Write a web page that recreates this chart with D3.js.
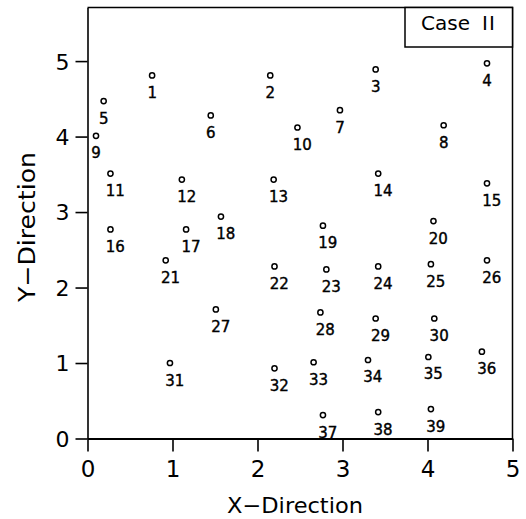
<!DOCTYPE html>
<html>
<head>
<meta charset="utf-8">
<script src="https://cdn.jsdelivr.net/npm/d3@7"></script>
<style>
  html, body { margin: 0; padding: 0; background: #fff; }
  svg { display: block; }
  text { font-family: "DejaVu Sans", "Liberation Sans", Arial, sans-serif; fill: #000; }
</style>
</head>
<body>
<svg id="chart" width="526" height="519"></svg>
<script>
// Node ids and their coordinates
const nodeIds = d3.range(1, 40);
const xValues = [
  0.76, 2.15, 3.39, 4.70, 0.19, 1.45, 2.97, 4.19, 0.10, 2.47,
  0.27, 1.11, 2.19, 3.42, 4.70, 0.27, 1.16, 1.57, 2.77, 4.07,
  0.92, 2.20, 2.81, 3.42, 4.04, 4.70, 1.51, 2.74, 3.39, 4.08,
  0.97, 2.20, 2.66, 3.30, 4.01, 4.64, 2.77, 3.42, 4.04
];
const yValues = [
  4.81, 4.81, 4.89, 4.97, 4.47, 4.28, 4.35, 4.15, 4.01, 4.12,
  3.51, 3.43, 3.43, 3.51, 3.38, 2.77, 2.77, 2.94, 2.82, 2.88,
  2.36, 2.28, 2.24, 2.28, 2.31, 2.36, 1.71, 1.67, 1.59, 1.59,
  1.00, 0.93, 1.01, 1.04, 1.08, 1.15, 0.31, 0.35, 0.39
];
const xTicks = [0, 1, 2, 3, 4, 5];
const yTicks = [0, 1, 2, 3, 4, 5];
const caseLabel = "Case";
const caseNumber = "II";

const svg = d3.select("#chart");
const plotLeft = 87.5, plotRight = 512.5, plotTop = 7.5, plotBottom = 438.5;

const x = d3.scaleLinear().domain([0, 5]).range([plotLeft, plotRight]);
const y = d3.scaleLinear().domain([0, 5.71]).range([plotBottom, plotTop]);

// frame (top and right edges)
svg.append("path")
  .attr("d", `M${plotLeft},${plotTop}H${plotRight}V${plotBottom}`)
  .attr("fill", "none").attr("stroke", "#000").attr("stroke-width", 1.5);

// x axis
const gx = svg.append("g")
  .attr("transform", `translate(0,${plotBottom})`)
  .call(d3.axisBottom(x).tickValues(xTicks).tickFormat(d3.format("d"))
    .tickSize(13).tickSizeOuter(0).tickPadding(9));
gx.select(".domain").attr("stroke-width", 2.2);
gx.selectAll(".tick line").attr("stroke-width", 1.6);
gx.selectAll(".tick text").attr("font-size", 23)
  .attr("font-family", "DejaVu Sans, sans-serif");

// y axis
const gy = svg.append("g")
  .attr("transform", `translate(${plotLeft},0)`)
  .call(d3.axisLeft(y).tickValues(yTicks).tickFormat(d3.format("d"))
    .tickSize(12).tickSizeOuter(0).tickPadding(6));
gy.select(".domain").attr("stroke-width", 1.6);
gy.selectAll(".tick line").attr("stroke-width", 1.6);
gy.selectAll(".tick text").attr("font-size", 22).attr("dy", "0.36em")
  .attr("font-family", "DejaVu Sans, sans-serif");

// axis titles
svg.append("text")
  .attr("x", 295).attr("y", 513)
  .attr("text-anchor", "middle").attr("font-size", 21)
  .attr("textLength", 136).attr("lengthAdjust", "spacingAndGlyphs")
  .text("X\u2212Direction");
svg.append("text")
  .attr("transform", "translate(35,227) rotate(-90)")
  .attr("text-anchor", "middle").attr("font-size", 23)
  .attr("textLength", 150).attr("lengthAdjust", "spacingAndGlyphs")
  .text("Y\u2212Direction");

// case box
svg.append("rect")
  .attr("x", 405).attr("y", plotTop).attr("width", plotRight - 405).attr("height", 47 - plotTop)
  .attr("fill", "#fff").attr("stroke", "#000").attr("stroke-width", 1.5);
svg.append("text")
  .attr("x", 421).attr("y", 30).attr("font-size", 20)
  .attr("font-family", "Liberation Sans, Arial, sans-serif")
  .text(caseLabel);
svg.append("text")
  .attr("x", 482).attr("y", 30).attr("font-size", 20)
  .attr("font-family", "Liberation Serif, Times New Roman, serif")
  .attr("letter-spacing", 1)
  .text(caseNumber);

// nodes
const nodes = nodeIds.map((id, i) => ({ id, x: xValues[i], y: yValues[i] }));
const g = svg.append("g");
g.selectAll("circle").data(nodes).join("circle")
  .attr("cx", d => x(d.x)).attr("cy", d => y(d.y)).attr("r", 2.6)
  .attr("fill", "none").attr("stroke", "#000").attr("stroke-width", 1.5);
g.selectAll("text").data(nodes).join("text")
  .attr("x", d => x(d.x) - 4.7).attr("y", d => y(d.y) + 22.5)
  .attr("font-size", 15).attr("stroke", "#000").attr("stroke-width", 0.4)
  .text(d => d.id);
</script>
</body>
</html>
